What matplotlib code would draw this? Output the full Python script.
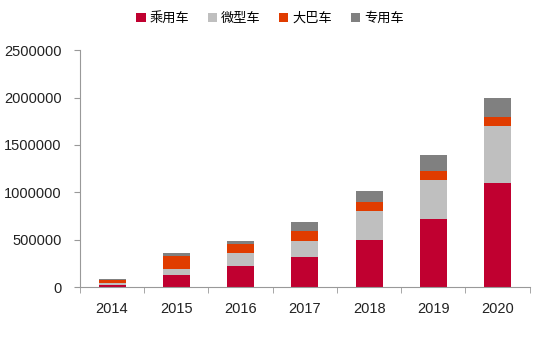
import matplotlib.pyplot as plt
import numpy as np

plt.rcParams['font.family'] = ['Liberation Sans', 'Noto Sans CJK SC', 'DejaVu Sans']

years = ['2014', '2015', '2016', '2017', '2018', '2019', '2020']
passenger = [25000, 130000, 220000, 320000, 500000, 720000, 1100000]
micro = [15000, 65000, 140000, 170000, 300000, 410000, 600000]
bus = [40000, 130000, 100000, 100000, 100000, 100000, 100000]
special = [5000, 40000, 30000, 100000, 110000, 160000, 200000]

labels = ['乘用车', '微型车', '大巴车', '专用车']
colors = ['#C00030', '#BFBFBF', '#E03C00', '#808080']

fig = plt.figure(figsize=(5.4, 3.46), dpi=100)
ax = fig.add_axes([0.148, 0.17, 0.833, 0.685])

x = np.arange(len(years))
bottom = np.zeros(len(years))
for vals, lab, c in zip([passenger, micro, bus, special], labels, colors):
    ax.bar(x, vals, 0.42, bottom=bottom, color=c, label=lab)
    bottom += np.array(vals)

ax.set_xlim(-0.5, len(years) - 0.5)
ax.set_ylim(0, 2500000)
yt = np.arange(0, 2500001, 500000)
ax.set_yticks(yt)
ax.set_yticklabels([str(v) for v in yt])
ax.set_xticks(x)
ax.set_xticklabels(years)
ax.set_xticks(np.arange(-0.5, len(years), 1), minor=True)
ax.tick_params(axis='x', which='major', length=0, pad=11, labelsize=10.5, colors='#222222')
ax.tick_params(axis='x', which='minor', length=4, color='#999999')
ax.tick_params(axis='y', length=4, pad=9, color='#999999', labelsize=10.5, labelcolor='#222222')

for s in ['top', 'right']:
    ax.spines[s].set_visible(False)
for s in ['left', 'bottom']:
    ax.spines[s].set_color('#999999')

fig.legend(loc='upper center', bbox_to_anchor=(0.5, 1.0), ncol=4, frameon=False,
           handlelength=0.7, handleheight=0.7, handletextpad=0.3,
           columnspacing=1.4, prop={'family': ['Noto Sans CJK SC'], 'size': 9.5})

fig.savefig('out.png', dpi=100)
